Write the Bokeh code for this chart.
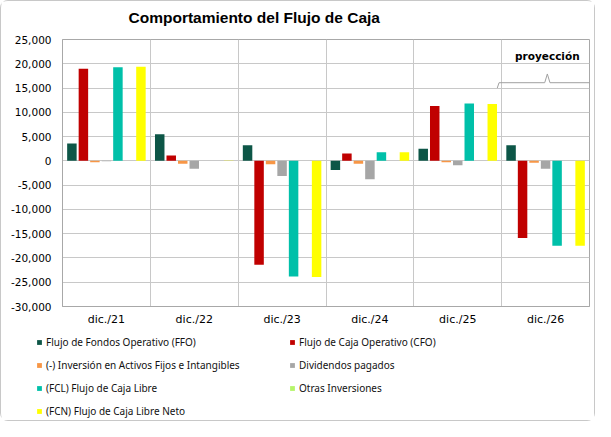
from bokeh.plotting import figure
from bokeh.models import (Range1d, FixedTicker, Legend, LegendItem,
                          ColumnDataSource, Label, NumeralTickFormatter)
from bokeh.embed import file_html
from bokeh.resources import INLINE

categories = ["dic./21", "dic./22", "dic./23", "dic./24", "dic./25", "dic./26"]
series_names = [
    "Flujo de Fondos Operativo (FFO)",
    "Flujo de Caja Operativo (CFO)",
    "(-) Inversión en Activos Fijos e Intangibles",
    "Dividendos pagados",
    "(FCL) Flujo de Caja Libre",
    "Otras Inversiones",
    "(FCN) Flujo de Caja Libre Neto",
]
ffo = [3600, 5500, 3200, -1900, 2500, 3200]
cfo = [19000, 1100, -21400, 1500, 11300, -15900]
inversion = [-300, -600, -700, -600, -300, -400]
dividendos = [-100, -1600, -3100, -3800, -900, -1650]
fcl = [19300, 0, -23800, 1800, 11800, -17500]
otras = [0, 0, 0, 0, 0, 0]
fcn = [19400, 100, -23900, 1800, 11700, -17500]
series_values = [ffo, cfo, inversion, dividendos, fcl, otras, fcn]
colors = ["#0D5647", "#C00000", "#F79646", "#A6A6A6", "#00C0A9", "#B5F56A", "#FFFF00"]
y_ticks = list(range(-30000, 25001, 5000))
title_text = "Comportamiento del Flujo de Caja"
projection_label = "proyección"

FONT = "DejaVu Sans"
BORDER = "1px solid #C8C8C8"
W = 595

# ---- title strip ----
tf = figure(width=W, height=32, output_backend="svg", toolbar_location=None,
            x_axis_type=None, y_axis_type=None,
            x_range=Range1d(0, W), y_range=Range1d(0, 32),
            min_border_left=0, min_border_right=0, min_border_top=0, min_border_bottom=0)
tf.grid.visible = False
tf.outline_line_color = None
tf.background_fill_color = "white"
tf.border_fill_color = "white"
tf.styles = {"border": BORDER, "border-bottom": "none", "border-radius": "8px 8px 0 0"}
tf.add_layout(Label(x=127, y=16, text=title_text, text_font="Liberation Sans",
                    text_font_size="15.5px", text_font_style="bold",
                    text_align="left", text_baseline="middle", text_color="#000000"))

# ---- chart ----
p = figure(width=W, height=298, output_backend="svg", toolbar_location=None,
           x_range=Range1d(0, len(categories)), y_range=Range1d(-30000, 25000),
           min_border_left=61, min_border_right=7, min_border_top=7, min_border_bottom=24)
p.background_fill_color = "white"
p.border_fill_color = "white"
p.outline_line_color = "#A8A8A8"
p.styles = {"border-left": BORDER, "border-right": BORDER}

slot = 0.131
bw = 0.108
renderers = []
for k, (name, vals, col) in enumerate(zip(series_names, series_values, colors)):
    xs = [i + 0.5 + (k - 3) * slot for i in range(len(categories))]
    src = ColumnDataSource(dict(x=xs, top=vals))
    r = p.vbar(x="x", top="top", bottom=0, width=bw, source=src, fill_color=col,
               line_color=None)
    renderers.append(r)

p.yaxis.ticker = FixedTicker(ticks=y_ticks)
p.yaxis.formatter = NumeralTickFormatter(format="0,0")
p.yaxis.major_label_text_font = FONT
p.yaxis.major_label_text_font_size = "10.5px"
p.yaxis.major_label_text_color = "#000000"
p.yaxis.axis_line_color = "#A8A8A8"
p.yaxis.major_tick_line_color = None
p.yaxis.minor_tick_line_color = None
p.yaxis.major_tick_out = 0
p.yaxis.major_tick_in = 0
p.yaxis.minor_tick_out = 0
p.yaxis.major_label_standoff = 11

p.xaxis.ticker = FixedTicker(ticks=[i + 0.5 for i in range(len(categories))])
p.xaxis.major_label_overrides = {i + 0.5: c for i, c in enumerate(categories)}
p.xaxis.major_label_text_font = FONT
p.xaxis.major_label_text_font_size = "11px"
p.xaxis.major_label_text_color = "#000000"
p.xaxis.axis_line_color = "#A8A8A8"
p.xaxis.major_tick_line_color = None
p.xaxis.minor_tick_line_color = None
p.xaxis.major_tick_out = 0
p.xaxis.major_tick_in = 0
p.xaxis.minor_tick_out = 0
p.xaxis.major_label_standoff = 6

p.ygrid.grid_line_color = "#C8C8C8"
p.xgrid.ticker = FixedTicker(ticks=list(range(1, len(categories))))
p.xgrid.grid_line_color = "#C8C8C8"

# projection brace
xb0 = 4.95
xb1 = 6.09
xm = (xb0 + xb1) / 2
p.line([xb0, xb0 + 0.02, xm - 0.03, xm, xm + 0.03, xb1 - 0.02, xb1],
       [15000, 16100, 16100, 17900, 16100, 16100, 15000],
       line_color="#A0A0A0", line_width=1)
p.add_layout(Label(x=xm, y=21500, text=projection_label, text_font=FONT,
                   text_font_size="10.5px", text_font_style="bold",
                   text_align="center", text_baseline="middle", text_color="#000000"))

# ---- legend strip ----
lf = figure(width=W, height=91, output_backend="svg", toolbar_location=None,
            x_axis_type=None, y_axis_type=None,
            x_range=Range1d(0, 1), y_range=Range1d(0, 1),
            min_border_left=0, min_border_right=0, min_border_top=0, min_border_bottom=0)
lf.grid.visible = False
lf.outline_line_color = None
lf.background_fill_color = "white"
lf.border_fill_color = "white"
lf.styles = {"border": BORDER, "border-top": "none", "border-radius": "0 0 8px 8px"}
leg_renderers = []
for name, col in zip(series_names, colors):
    leg_renderers.append(lf.vbar(x=[5], top=[5], bottom=[4], width=0.1,
                                 fill_color=col, line_color=None))

for idx, xloc in (([0, 2, 4, 6], 35), ([1, 3, 5], 288)):
    items = [LegendItem(label=series_names[i], renderers=[leg_renderers[i]]) for i in idx]
    nrows = len(idx)
    height = nrows * 16 + (nrows - 1) * 7
    lg = Legend(items=items, location=(xloc, 91 - 4 - height), orientation="vertical",
                glyph_width=6, glyph_height=6, label_height=16, spacing=7,
                padding=0, margin=0, border_line_color=None,
                background_fill_alpha=0, label_text_font="Noto Sans",
                label_text_color="#111111",
                label_text_font_size="10px", label_standoff=4)
    lf.add_layout(lg, "center")

open("out.html", "w").write(file_html([tf, p, lf], INLINE))
